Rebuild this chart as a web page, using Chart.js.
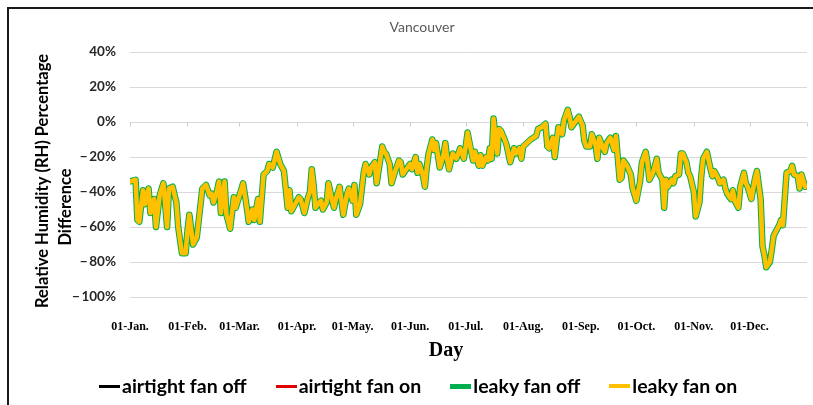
<!DOCTYPE html>
<html>
<head>
<meta charset="utf-8">
<title>Vancouver RH difference</title>
<script src="https://cdn.jsdelivr.net/npm/chart.js@4.4.0/dist/chart.umd.min.js"></script>
<style>
  html, body { margin: 0; padding: 0; background: #fff; }
  #wrap { position: relative; width: 813px; height: 405px; }
  #legend {
    position: absolute; left: 99px; top: 375px;
    display: flex; gap: 29px;
    font: bold 19.5px Lato, sans-serif; line-height: 22px; color: #000;
    white-space: nowrap;
  }
  #legend .item { display: flex; align-items: center; }
  #legend .swatch { width: 21px; margin-right: 2px; }
</style>
</head>
<body>
<div id="wrap">
  <canvas id="rhChart" width="813" height="405"></canvas>
  <div id="legend"></div>
</div>
<script>
// x axis: day of year (0 = 1 Jan), ticks on the first of each month
const monthStarts = [0, 31, 59, 90, 120, 151, 181, 212, 243, 273, 304, 334];
const monthLabels = ['01-Jan.', '01-Feb.', '01-Mar.', '01-Apr.', '01-May.', '01-Jun.',
                     '01-Jul.', '01-Aug.', '01-Sep.', '01-Oct.', '01-Nov.', '01-Dec.'];
const yTicks = [40, 20, 0, -20, -40, -60, -80, -100];

// days (turning points of the curve)
const dayOfYear = [
  0, 3, 4, 5, 7, 8, 10, 11, 13, 14, 16, 18, 20, 21, 23, 25, 26, 28, 30, 31, 32, 34, 36, 39, 41, 43, 44, 45, 47, 48, 49, 51, 52, 54, 56, 57,
  59, 61, 63, 64, 66, 67, 69, 70, 72, 74, 75, 77, 79, 81, 83, 85, 86, 87, 89, 91, 92, 94, 96, 97, 98, 99, 100, 102, 103, 104, 106, 107, 109, 110, 111, 113, 114, 115, 117, 118,
  120, 121, 122, 124, 126, 127, 129, 130, 132, 133, 136, 137, 138, 140, 141, 143, 145, 146, 147, 149, 151, 152, 154, 155, 156, 158, 159, 160, 161, 163, 164, 165, 167, 169, 170, 171, 172, 174, 176, 178, 180,
  181, 182, 184, 185, 186, 188, 189, 190, 192, 193, 194, 195, 196, 198, 199, 200, 202, 203, 205, 207, 208, 210, 211, 212, 214, 216, 219, 220, 222, 223, 224, 225, 226, 228, 229, 230, 231, 233, 234, 236, 237, 238, 240, 242,
  244, 245, 246, 248, 249, 251, 252, 253, 255, 256, 257, 259, 261, 262, 264, 265, 266, 268, 270, 271, 273, 275, 276, 278, 279, 280, 282, 284, 285, 287, 288, 289, 290, 292, 293, 294, 296, 297, 298, 300, 301, 302,
  304, 305, 307, 308, 309, 310, 311, 313, 314, 315, 317, 318, 320, 321, 322, 324, 325, 326, 328, 329, 331, 332, 333, 335, 337, 338, 340, 341, 342, 343, 345, 346, 347, 349, 350, 351, 352, 353, 354, 356, 357, 358, 360, 361, 362, 364
];

// RH percentage difference (%) - the four cases lie on top of each other in the figure
const rhDiff = [
  -34, -33, -56, -57, -39, -47, -38, -52, -44, -60, -42, -35, -60, -38, -37, -46, -60, -75, -75, -62, -53, -70, -66, -38, -36, -42, -41, -46, -39, -34, -52, -34, -53, -61, -43, -49,
  -42, -35, -49, -57, -50, -56, -44, -57, -30, -28, -24, -26, -17, -24, -28, -49, -39, -51, -47, -43, -44, -52, -43, -40, -27, -36, -49, -46, -45, -50, -46, -35, -45, -49, -44, -37, -45, -53, -41, -38,
  -45, -36, -53, -47, -29, -24, -30, -26, -23, -35, -14, -17, -18, -24, -35, -28, -22, -23, -30, -27, -24, -27, -20, -29, -24, -31, -37, -26, -18, -10, -16, -12, -26, -19, -12, -21, -27, -18, -21, -15, -21,
  -14, -6, -17, -22, -17, -25, -19, -25, -20, -22, -15, -21, 2, -18, -4, -5, -10, -13, -23, -15, -18, -15, -21, -14, -12, -10, -8, -4, -3, -2, -1, -14, -15, -9, -20, -11, -3, -7, 1, 7, 3, -3, 0, 3,
  -2, -11, -14, -14, -7, -13, -21, -9, -15, -17, -12, -9, -16, -8, -33, -32, -22, -25, -30, -38, -45, -34, -23, -17, -23, -33, -29, -21, -29, -33, -49, -33, -37, -33, -35, -31, -30, -18, -18, -23, -29, -31,
  -40, -54, -46, -31, -21, -19, -17, -27, -31, -28, -32, -35, -33, -38, -41, -44, -39, -45, -49, -37, -29, -35, -37, -44, -32, -28, -44, -71, -76, -83, -80, -73, -65, -61, -59, -56, -59, -44, -29, -28, -25, -30, -31, -38, -30, -37
];

const seriesNames = ['airtight fan off', 'airtight fan on', 'leaky fan off', 'leaky fan on'];
const seriesColors = ['#000000', '#e00000', '#00b050', '#ffc000'];
const seriesWidths = [2.5, 2.5, 6.5, 4.5];
const legendWidths = [3, 3, 5, 4];

const points = dayOfYear.map((d, i) => ({ x: d, y: rhDiff[i] }));

// white page, outer frame, titles, little month ticks on the 0% line
const decorations = {
  id: 'decorations',
  beforeDraw(chart) {
    const ctx = chart.ctx;
    ctx.save();
    ctx.fillStyle = '#fff';
    ctx.fillRect(0, 0, chart.width, chart.height);
    ctx.restore();
  },
  beforeDatasetsDraw(chart) {
    const ctx = chart.ctx;
    const xs = chart.scales.x, ys = chart.scales.y;
    const y0 = Math.round(ys.getPixelForValue(0)) + 0.5;
    ctx.save();
    ctx.strokeStyle = '#d0d0d0';
    ctx.lineWidth = 1;
    monthStarts.concat([365]).forEach(d => {
      const px = Math.round(xs.getPixelForValue(d)) + 0.5;
      ctx.beginPath();
      ctx.moveTo(px, y0);
      ctx.lineTo(px, y0 + 4);
      ctx.stroke();
    });
    ctx.restore();
  },
  afterDraw(chart) {
    const ctx = chart.ctx;
    ctx.save();
    ctx.strokeStyle = '#1a1a1a';
    ctx.lineWidth = 2;
    ctx.beginPath();
    ctx.moveTo(8, chart.height);
    ctx.lineTo(8, 8);
    ctx.lineTo(chart.width, 8);
    ctx.stroke();

    ctx.textAlign = 'center';
    ctx.textBaseline = 'middle';

    ctx.fillStyle = '#595959';
    ctx.font = '14px Lato';
    ctx.fillText('Vancouver', 422, 27);

    ctx.fillStyle = '#000';
    ctx.font = 'bold 20px "Liberation Serif"';
    ctx.fillText('Day', 446, 351);

    ctx.font = 'bold 16.5px Lato';
    ctx.save();
    ctx.translate(43, 181);
    ctx.rotate(-Math.PI / 2);
    ctx.fillText('Relative Humidity (RH) Percentage', 0, 0);
    ctx.restore();
    ctx.translate(66, 207);
    ctx.rotate(-Math.PI / 2);
    ctx.fillText('Difference', 0, 0);
    ctx.restore();
  }
};

new Chart(document.getElementById('rhChart'), {
  type: 'line',
  data: {
    datasets: seriesNames.map((name, i) => ({
      label: name,
      data: points,
      borderColor: seriesColors[i],
      backgroundColor: seriesColors[i],
      borderWidth: seriesWidths[i],
      borderJoinStyle: 'round',
      borderCapStyle: 'round',
      pointRadius: 0,
      tension: 0,
      fill: false,
      order: 4 - i // yellow drawn last, on top
    }))
  },
  options: {
    responsive: false,
    animation: false,
    devicePixelRatio: 1,
    layout: { padding: { left: 0, right: 6, top: 52, bottom: 41 } },
    plugins: {
      title: { display: false },
      legend: { display: false },
      tooltip: { enabled: false }
    },
    scales: {
      x: {
        type: 'linear',
        min: 0,
        max: 365,
        afterBuildTicks: axis => { axis.ticks = monthStarts.map(v => ({ value: v })); },
        afterFit: axis => { axis.height = 67; },
        grid: { display: false, drawTicks: false },
        border: { display: false },
        ticks: {
          autoSkip: false,
          maxRotation: 0,
          padding: 23,
          color: '#000',
          font: { family: 'Liberation Serif', size: 12, weight: 'bold' },
          callback: (v, i) => monthLabels[i]
        }
      },
      y: {
        min: -100,
        max: 40,
        afterBuildTicks: axis => { axis.ticks = yTicks.map(v => ({ value: v })); },
        afterFit: axis => { axis.width = 130; },
        grid: { color: '#d9d9d9', drawTicks: false },
        border: { display: false },
        ticks: {
          padding: 14,
          color: '#262626',
          font: { family: 'Lato', size: 13.5, weight: 'bold' },
          callback: v => (v < 0 ? '\u2212\u2009' + Math.abs(v) : v) + '%'
        }
      }
    }
  },
  plugins: [decorations]
});

// legend as html, same order as the datasets
const legendEl = document.getElementById('legend');
seriesNames.forEach((name, i) => {
  const item = document.createElement('div');
  item.className = 'item';
  const sw = document.createElement('span');
  sw.className = 'swatch';
  sw.style.height = legendWidths[i] + 'px';
  sw.style.background = seriesColors[i];
  const tx = document.createElement('span');
  tx.textContent = name;
  item.appendChild(sw);
  item.appendChild(tx);
  legendEl.appendChild(item);
});
</script>
</body>
</html>
